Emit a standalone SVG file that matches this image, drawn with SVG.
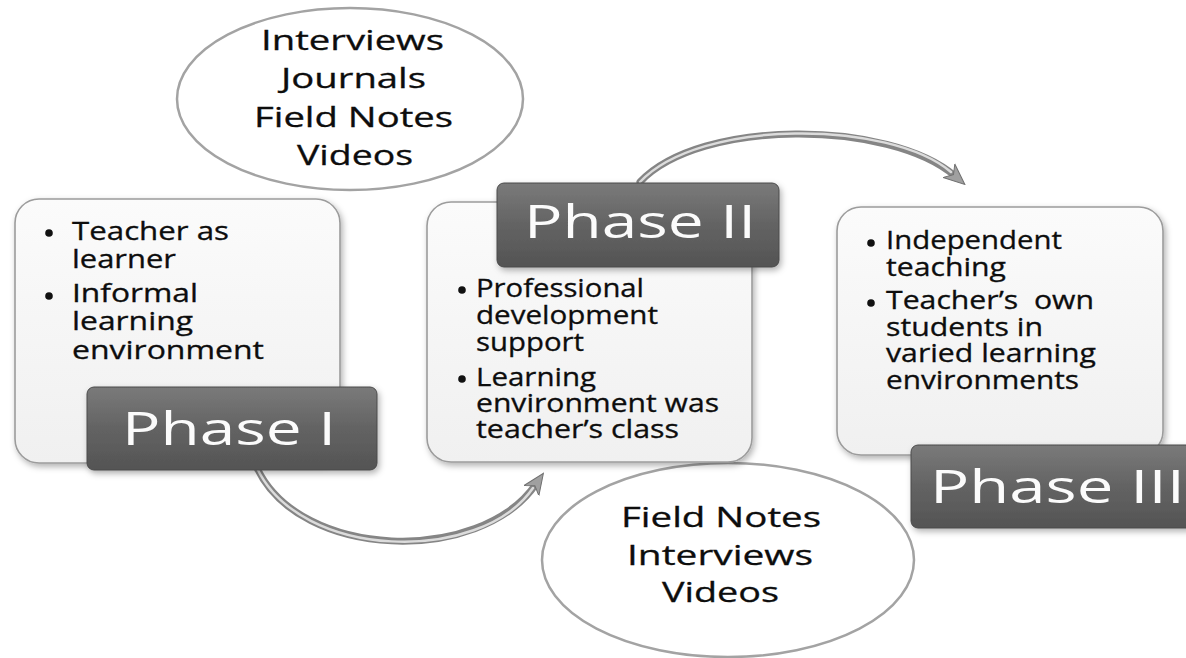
<svg xmlns="http://www.w3.org/2000/svg" width="1186" height="658" viewBox="0 0 1186 658">
<style>
.box{fill:url(#boxGrad);stroke:#9c9c9c;stroke-width:1.6;filter:url(#shadow)}
.lab{fill:url(#labGrad);stroke:#4a4a4a;stroke-width:1;filter:url(#shadow)}
.ell{fill:#ffffff;stroke:#a3a3a3;stroke-width:2.5}
.t{font-family:"Open Sans","Noto Sans",sans-serif;font-size:25px;fill:#0d0d0d;stroke:#0d0d0d;stroke-width:0.3;white-space:pre}
.e{font-family:"Open Sans","Noto Sans",sans-serif;font-size:28px;fill:#0d0d0d;stroke:#0d0d0d;stroke-width:0.3}
.p{font-family:"Open Sans","Noto Sans",sans-serif;font-size:46px;fill:#fbfbfb}
.dot{fill:#111111}
.shaft{fill:none;stroke:#858585;stroke-width:7;stroke-linecap:round}
.hi{fill:none;stroke:#dcdcdc;stroke-width:2.5;stroke-linecap:round}
</style>
<defs>
<linearGradient id="boxGrad" x1="0" y1="0" x2="0" y2="1">
<stop offset="0" stop-color="#fbfbfb"/>
<stop offset="1" stop-color="#f0f0f0"/>
</linearGradient>
<linearGradient id="labGrad" x1="0" y1="0" x2="0" y2="1">
<stop offset="0" stop-color="#7a7a7a"/>
<stop offset="0.5" stop-color="#636363"/>
<stop offset="1" stop-color="#545454"/>
</linearGradient>
<filter id="shadow" x="-10%" y="-10%" width="125%" height="130%">
<feDropShadow dx="2" dy="3" stdDeviation="3" flood-color="#000" flood-opacity="0.3"/>
</filter>
<marker id="ah" markerUnits="userSpaceOnUse" markerWidth="22" markerHeight="20" viewBox="0 0 22 20" refX="8" refY="10" orient="auto">
<path d="M0,1 L21,10 L0,19 L6,10 Z" fill="#a0a0a0" stroke="#707070" stroke-width="1"/>
</marker>
</defs>

<g id="connectors">
<path class="shaft" d="M 257 468 C 300 560, 480 565, 536 484" marker-end="url(#ah)"/>
<path class="hi" d="M 257 468 C 300 560, 480 565, 533 488"/>
<path class="shaft" d="M 640 182 C 700 118, 890 120, 955 176" marker-end="url(#ah)"/>
<path class="hi" d="M 640 182 C 700 118, 890 120, 951 172"/>
</g>

<g id="sources-top">
<ellipse class="ell" cx="350" cy="99" rx="173" ry="91"/>
<text class="e"><tspan x="261" y="50" textLength="183" lengthAdjust="spacingAndGlyphs">Interviews</tspan><tspan x="281" y="88" textLength="145" lengthAdjust="spacingAndGlyphs">Journals</tspan><tspan x="254" y="127" textLength="199" lengthAdjust="spacingAndGlyphs">Field Notes</tspan><tspan x="297" y="165" textLength="116" lengthAdjust="spacingAndGlyphs">Videos</tspan></text>
</g>

<g id="sources-bottom">
<ellipse class="ell" cx="728" cy="560" rx="186" ry="97"/>
<text class="e"><tspan x="621" y="527" textLength="200" lengthAdjust="spacingAndGlyphs">Field Notes</tspan><tspan x="627" y="565" textLength="186" lengthAdjust="spacingAndGlyphs">Interviews</tspan><tspan x="662" y="602" textLength="117" lengthAdjust="spacingAndGlyphs">Videos</tspan></text>
</g>

<g id="phase1">
<rect class="box" x="15" y="199" width="325" height="264" rx="24"/>
<circle class="dot" cx="49" cy="233" r="3.8"/>
<circle class="dot" cx="49" cy="296" r="3.8"/>
<text class="t"><tspan x="72" y="240" textLength="157" lengthAdjust="spacingAndGlyphs">Teacher as</tspan><tspan x="72" y="268" textLength="104" lengthAdjust="spacingAndGlyphs">learner</tspan><tspan x="72" y="302" textLength="126" lengthAdjust="spacingAndGlyphs">Informal</tspan><tspan x="72" y="330" textLength="121" lengthAdjust="spacingAndGlyphs">learning</tspan><tspan x="72" y="359" textLength="192" lengthAdjust="spacingAndGlyphs">environment</tspan></text>
<rect class="lab" x="87" y="387" width="290" height="83" rx="7"/>
<text class="p" x="122" y="445" textLength="214" lengthAdjust="spacingAndGlyphs">Phase I</text>
</g>

<g id="phase2">
<rect class="box" x="427" y="202" width="325" height="260" rx="24"/>
<circle class="dot" cx="462" cy="290" r="3.8"/>
<circle class="dot" cx="462" cy="379" r="3.8"/>
<text class="t"><tspan x="476" y="297" textLength="168" lengthAdjust="spacingAndGlyphs">Professional</tspan><tspan x="476" y="324" textLength="182" lengthAdjust="spacingAndGlyphs">development</tspan><tspan x="476" y="351" textLength="108" lengthAdjust="spacingAndGlyphs">support</tspan><tspan x="476" y="386" textLength="120" lengthAdjust="spacingAndGlyphs">Learning</tspan><tspan x="476" y="412" textLength="243" lengthAdjust="spacingAndGlyphs">environment was</tspan><tspan x="476" y="438" textLength="203" lengthAdjust="spacingAndGlyphs">teacher’s class</tspan></text>
<rect class="lab" x="497" y="183" width="282" height="84" rx="7"/>
<text class="p" x="524" y="238" textLength="232" lengthAdjust="spacingAndGlyphs">Phase II</text>
</g>

<g id="phase3">
<rect class="box" x="837" y="207" width="326" height="248" rx="24"/>
<circle class="dot" cx="871" cy="243" r="3.8"/>
<circle class="dot" cx="871" cy="303" r="3.8"/>
<text class="t"><tspan x="886" y="249" textLength="176" lengthAdjust="spacingAndGlyphs">Independent</tspan><tspan x="886" y="276" textLength="120" lengthAdjust="spacingAndGlyphs">teaching</tspan><tspan x="886" y="309" textLength="208" lengthAdjust="spacingAndGlyphs">Teacher’s  own</tspan><tspan x="886" y="336" textLength="157" lengthAdjust="spacingAndGlyphs">students in</tspan><tspan x="886" y="362" textLength="210" lengthAdjust="spacingAndGlyphs">varied learning</tspan><tspan x="886" y="389" textLength="193" lengthAdjust="spacingAndGlyphs">environments</tspan></text>
<rect class="lab" x="911" y="445" width="290" height="83" rx="7"/>
<text class="p" x="930" y="503" textLength="255" lengthAdjust="spacingAndGlyphs">Phase III</text>
</g>
</svg>
